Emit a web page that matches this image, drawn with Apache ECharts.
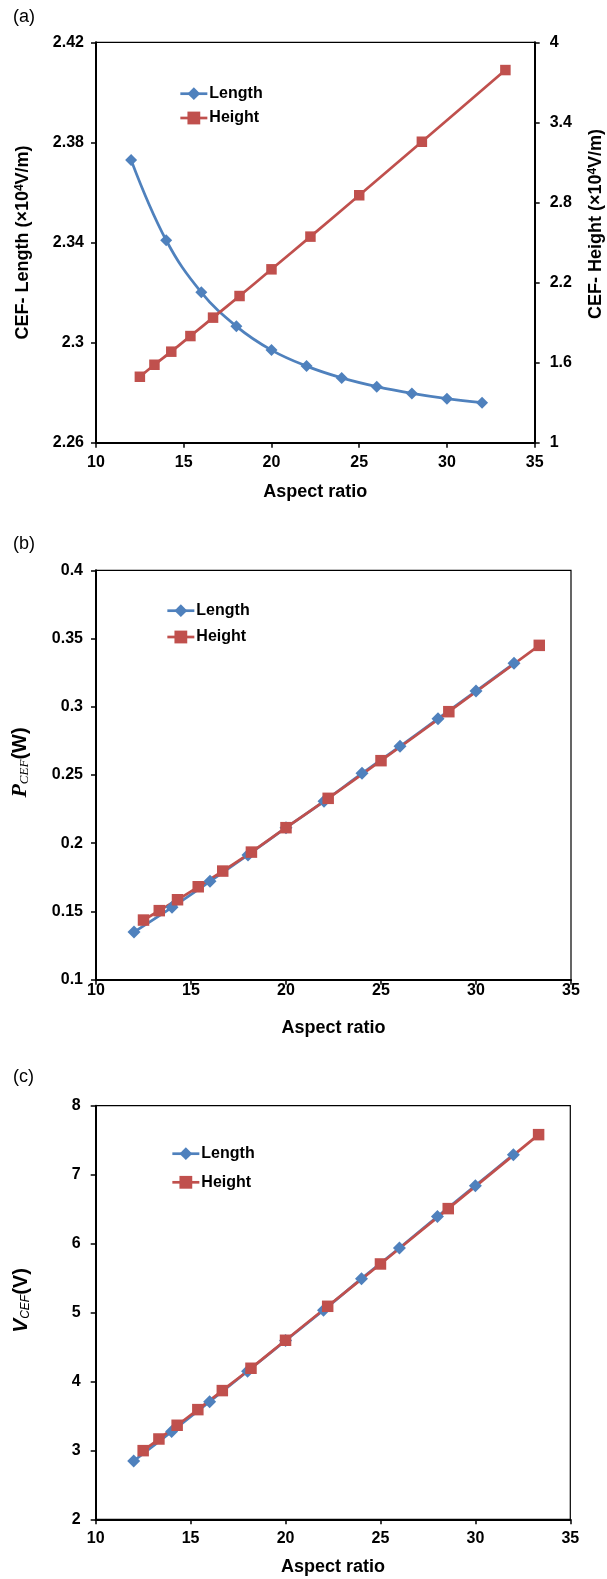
<!DOCTYPE html>
<html>
<head>
<meta charset="utf-8">
<script src="https://cdn.jsdelivr.net/npm/echarts@6/dist/echarts.min.js"></script>
<style>
html,body{margin:0;padding:0;background:#fff;}
#c{width:607px;height:1579px;}
</style>
</head>
<body>
<div id="c"></div>
<script>
// ---- data ----
const lengthRatio = [12, 14, 16, 18, 20, 22, 24, 26, 28, 30, 32];
const heightRatio = [12.5, 13.33, 14.29, 15.38, 16.67, 18.18, 20, 22.22, 25, 28.57, 33.33];

const cefLength = [2.373, 2.3409, 2.3201, 2.3065, 2.297, 2.2906, 2.2859, 2.2824, 2.2797, 2.2776, 2.276];
const cefHeight = [1.494, 1.584, 1.682, 1.799, 1.937, 2.099, 2.299, 2.544, 2.854, 3.255, 3.792];

const pLength = [0.1349, 0.153, 0.1721, 0.1914, 0.2114, 0.2307, 0.2512, 0.271, 0.2913, 0.3115, 0.3318];
const pHeight = [0.1437, 0.1506, 0.1586, 0.1681, 0.1796, 0.1935, 0.2114, 0.2329, 0.2605, 0.2964, 0.345];

const vLength = [2.846, 3.272, 3.707, 4.147, 4.592, 5.032, 5.491, 5.936, 6.391, 6.84, 7.29];
const vHeight = [2.996, 3.165, 3.364, 3.591, 3.867, 4.191, 4.597, 5.09, 5.704, 6.507, 7.58];

const xTicks = {min: 10, max: 35, interval: 5};
const yTicksA = {min: 2.26, max: 2.42, interval: 0.04};
const yTicksA2 = {min: 1, max: 4, interval: 0.6};
const yTicksB = {min: 0.1, max: 0.4, interval: 0.05};
const yTicksC = {min: 2, max: 8, interval: 1};

const seriesNames = ['Length', 'Height'];

// ---- styling ----
const F = '"Liberation Sans", Arial, sans-serif';
const FS = '"Liberation Serif", "Times New Roman", serif';
const BLUE = '#4F81BD';
const RED = '#C0504D';

function zip(xs, ys) { return xs.map((x, i) => [x, ys[i]]); }

function xAxis(gridIndex, margin, gap) {
  return {
    type: 'value', gridIndex: gridIndex,
    min: xTicks.min, max: xTicks.max, interval: xTicks.interval,
    axisLine: {show: true, onZero: false, lineStyle: {color: '#000', width: 2}},
    axisTick: {show: true, inside: false, length: 5, lineStyle: {color: '#000', width: 1.5}},
    axisLabel: {margin: margin, color: '#000', fontSize: 16, fontWeight: 'bold', fontFamily: F},
    splitLine: {show: false},
    name: 'Aspect ratio', nameLocation: 'middle', nameGap: gap,
    nameTextStyle: {fontSize: 18, fontWeight: 'bold', color: '#000', fontFamily: F}
  };
}

function yAxis(gridIndex, ticks, position, margin, name, gap, rich, padding) {
  return {
    type: 'value', gridIndex: gridIndex, position: position,
    min: ticks.min, max: ticks.max, interval: ticks.interval,
    axisLine: {show: true, onZero: false, lineStyle: {color: '#000', width: 2}},
    axisTick: {show: true, inside: false, length: 5, lineStyle: {color: '#000', width: 1.5}},
    axisLabel: {margin: margin, color: '#000', fontSize: 16, fontWeight: 'bold', fontFamily: F},
    splitLine: {show: false},
    name: name, nameLocation: 'middle', nameRotate: 90, nameGap: gap,
    nameTextStyle: {color: '#000', rich: rich, padding: padding}
  };
}

const richCEF = {
  t: {fontSize: 18, fontWeight: 'bold', fontFamily: F, color: '#000'},
  s: {fontSize: 12, fontWeight: 'bold', fontFamily: F, color: '#000', verticalAlign: 'top'}
};
const richP = {
  p: {fontSize: 22, fontWeight: 'bold', fontStyle: 'italic', fontFamily: FS, color: '#000'},
  s: {fontSize: 13, fontStyle: 'italic', fontFamily: FS, color: '#000', verticalAlign: 'bottom'},
  w: {fontSize: 20, fontWeight: 'bold', fontFamily: F, color: '#000'}
};
const richV = {
  v: {fontSize: 21, fontWeight: 'bold', fontStyle: 'italic', fontFamily: F, color: '#000'},
  s: {fontSize: 12, fontStyle: 'italic', fontFamily: F, color: '#000', verticalAlign: 'bottom'},
  w: {fontSize: 20, fontWeight: 'bold', fontFamily: F, color: '#000'}
};

function line(name, xi, yi, data, symbol, size, color, smooth) {
  return {
    name: name, type: 'line', xAxisIndex: xi, yAxisIndex: yi,
    data: data, symbol: symbol, symbolSize: size, smooth: smooth,
    showAllSymbol: true, clip: false,
    lineStyle: {color: color, width: 2.7},
    itemStyle: {color: color}
  };
}

function legend(left, top, gap) {
  return {
    data: seriesNames, orient: 'vertical', left: left, top: top, padding: 0,
    itemWidth: 27, itemHeight: 16, itemGap: gap, selectedMode: false,
    lineStyle: {width: 2.7},
    textStyle: {fontSize: 16, fontWeight: 'bold', color: '#000', fontFamily: F, padding: [0, 0, 0, -3]}
  };
}

const chart = echarts.init(document.getElementById('c'), null, {renderer: 'canvas'});
chart.setOption({
  animation: false,
  backgroundColor: '#fff',
  grid: [
    {left: 96, top: 42.3, width: 438.7, height: 400.4, show: true, borderColor: '#000', borderWidth: 1.2, outerBoundsMode: 'none', containLabel: false},
    {left: 96, top: 570.3, width: 475, height: 409.4, show: true, borderColor: '#000', borderWidth: 1.2, outerBoundsMode: 'none', containLabel: false},
    {left: 95.7, top: 1105.7, width: 474.6, height: 413.6, show: true, borderColor: '#000', borderWidth: 1.2, outerBoundsMode: 'none', containLabel: false}
  ],
  xAxis: [xAxis(0, 12, 40), xAxis(1, 3, 39), xAxis(2, 11, 39)],
  yAxis: [
    yAxis(0, yTicksA, 'left', 12, '{t|CEF- Length (×10}{s|4}{t|V/m)}', 64, richCEF, [0, 0, 0, 0]),
    yAxis(0, yTicksA2, 'right', 15, '{t|CEF- Height (×10}{s|4}{t|V/m)}', 52, richCEF, [0, 0, 0, 37]),
    yAxis(1, yTicksB, 'left', 13, '{p|P}{s|CEF}{w|(W)}', 65, richP, [0, 0, 0, 25]),
    yAxis(2, yTicksC, 'left', 15, '{v|V}{s|CEF}{w|(V)}', 64, richV, [0, 0, 0, 24])
  ],
  legend: [legend(179, 85.7, 8.3), legend(166, 602.7, 10.3), legend(171, 1145.7, 12.6)],
  series: [
    line('Length', 0, 0, zip(lengthRatio, cefLength), 'diamond', 12, BLUE, 0.4),
    line('Height', 0, 1, zip(heightRatio, cefHeight), 'rect', 10.5, RED, 0.3),
    line('Length', 1, 2, zip(lengthRatio, pLength), 'diamond', 13, BLUE, 0.3),
    line('Height', 1, 2, zip(heightRatio, pHeight), 'rect', 11.5, RED, 0.3),
    line('Length', 2, 3, zip(lengthRatio, vLength), 'diamond', 13, BLUE, 0.3),
    line('Height', 2, 3, zip(heightRatio, vHeight), 'rect', 11.5, RED, 0.3)
  ],
  graphic: [
    {type: 'text', x: 13, y: 17, style: {text: '(a)', fontSize: 18, fontFamily: F, fill: '#000', verticalAlign: 'middle'}},
    {type: 'text', x: 13, y: 544, style: {text: '(b)', fontSize: 18, fontFamily: F, fill: '#000', verticalAlign: 'middle'}},
    {type: 'text', x: 13, y: 1077, style: {text: '(c)', fontSize: 18, fontFamily: F, fill: '#000', verticalAlign: 'middle'}}
  ]
});
</script>
</body>
</html>
